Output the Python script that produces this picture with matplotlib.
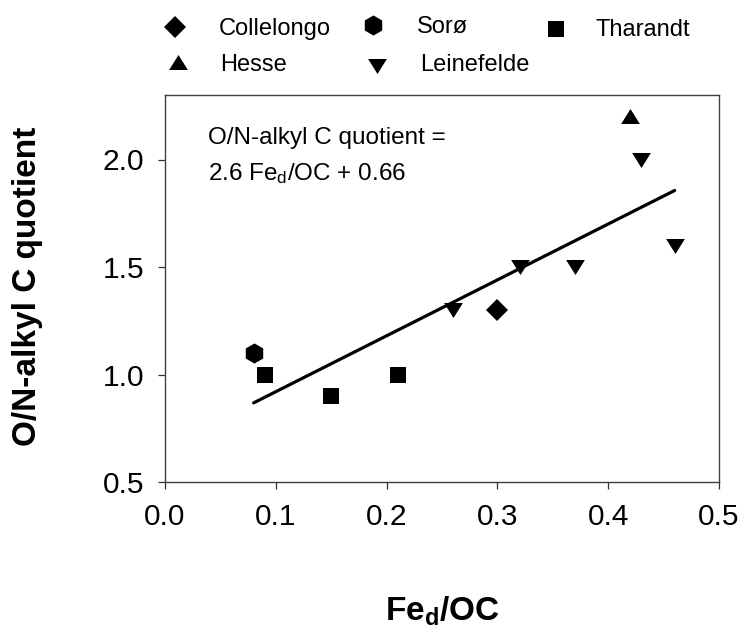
import matplotlib
matplotlib.use("Agg")
import matplotlib.pyplot as plt
from matplotlib.lines import Line2D
import numpy as np

plt.rcParams['font.family'] = ['Liberation Sans', 'DejaVu Sans']
plt.rcParams['mathtext.fontset'] = 'custom'
plt.rcParams['mathtext.rm'] = 'Liberation Sans'
plt.rcParams['mathtext.it'] = 'Liberation Sans'
plt.rcParams['mathtext.bf'] = 'Liberation Sans:bold'

# Fe_d/OC ratio and O/N-alkyl C quotient per site
sites = ['Collelongo', 'Sorø', 'Tharandt', 'Hesse', 'Leinefelde']
collelongo_x = [0.30]
collelongo_y = [1.30]
soro_x = [0.08]
soro_y = [1.10]
tharandt_x = [0.09, 0.15, 0.21]
tharandt_y = [1.00, 0.90, 1.00]
hesse_x = [0.42]
hesse_y = [2.20]
leinefelde_x = [0.26, 0.32, 0.37, 0.43, 0.46]
leinefelde_y = [1.30, 1.50, 1.50, 2.00, 1.60]

# regression: quotient = 2.6 * Fe_d/OC + 0.66
slope = 2.6
intercept = 0.66
fit_range = [0.08, 0.46]

xticks = [0.0, 0.1, 0.2, 0.3, 0.4, 0.5]
yticks = [0.5, 1.0, 1.5, 2.0]

W, H = 741, 628
fig = plt.figure(figsize=(W / 100, H / 100), dpi=100)
fig.patch.set_facecolor('white')


def fx(px):
    return px / W


def fy(py):
    return 1 - py / H


# axes box in pixel units
l, r, t, b = 165, 719, 95, 482
ax = fig.add_axes([fx(l), fy(b), (r - l) / W, (b - t) / H])

tri_up = [(-1, -0.8), (1, -0.8), (0, 0.8)]
tri_dn = [(-1, 0.8), (1, 0.8), (0, -0.8)]
styles = {
    'Collelongo': dict(marker='D', ms=11),
    'Sorø': dict(marker='h', ms=14.5),
    'Tharandt': dict(marker='s', ms=11.5),
    'Hesse': dict(marker=tri_up, ms=13.5),
    'Leinefelde': dict(marker=tri_dn, ms=13.5),
}
series = {
    'Collelongo': (collelongo_x, collelongo_y),
    'Sorø': (soro_x, soro_y),
    'Tharandt': (tharandt_x, tharandt_y),
    'Hesse': (hesse_x, hesse_y),
    'Leinefelde': (leinefelde_x, leinefelde_y),
}

xf = np.array(fit_range)
ax.plot(xf, slope * xf + intercept, color='black', lw=2.3, solid_capstyle='round', zorder=2)

for name in sites:
    xs, ys = series[name]
    st = styles[name]
    ax.plot(xs, ys, linestyle='none', marker=st['marker'], ms=st['ms'],
            color='black', mec='black', mew=0, zorder=3, clip_on=False)

ax.set_xlim(0, 0.5)
ax.set_ylim(0.5, 2.3)
ax.set_xticks(xticks)
ax.set_yticks(yticks)
ax.set_xticklabels([f'{v:.1f}' for v in xticks])
ax.set_yticklabels([f'{v:.1f}' for v in yticks])
ax.tick_params(axis='both', direction='out', length=5, width=0.9, color='#333333',
               labelsize=21.5)
ax.tick_params(axis='x', pad=10)
ax.tick_params(axis='y', pad=10)
for sp in ax.spines.values():
    sp.set_color('#404040')
    sp.set_linewidth(1.0)

# regression equation
ax.text(0.039, 2.070, 'O/N-alkyl C quotient =', fontsize=17.5, va='baseline', ha='left')
ax.text(0.039, 1.902, r'2.6 Fe$_\mathregular{d}$/OC + 0.66', fontsize=17.5,
        va='baseline', ha='left')

# axis titles
fig.text(fx(28), fy(286), 'O/N-alkyl C quotient', rotation=90, fontsize=24,
         fontweight='bold', ha='center', va='center')
fig.text(fx(442), fy(621), r'$\mathbf{Fe_d}$' + '/OC', fontsize=24,
         fontweight='bold', ha='center', va='baseline')

# legend entries above the axes: (label, marker x, marker y, text x, text baseline)
legend_items = [
    ('Collelongo', 175, 27, 219, 35),
    ('Sorø', 373, 25, 417, 33),
    ('Tharandt', 556, 29, 596, 36),
    ('Hesse', 178, 62, 220, 71),
    ('Leinefelde', 377, 66, 420, 71),
]
for name, mx, my, tx, ty in legend_items:
    st = styles[name]
    fig.add_artist(Line2D([fx(mx)], [fy(my)], transform=fig.transFigure,
                          marker=st['marker'], ms=st['ms'], color='black', mew=0,
                          linestyle='none'))
    fig.text(fx(tx), fy(ty), name, fontsize=17, ha='left', va='baseline')

fig.savefig('out.png', dpi=100, facecolor='white')
